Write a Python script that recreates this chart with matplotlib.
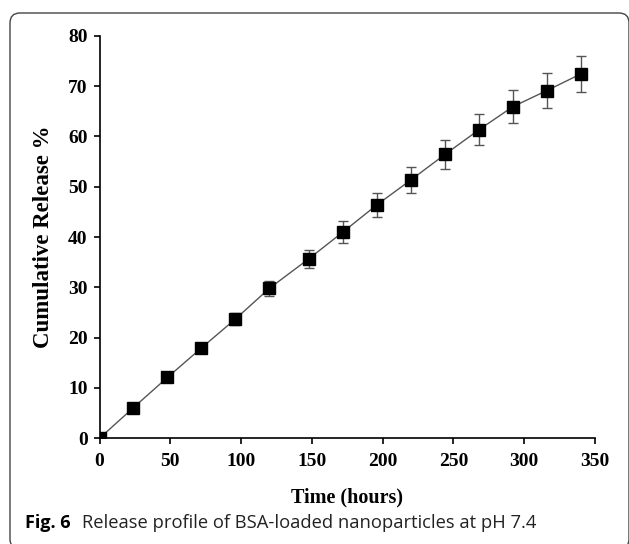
import matplotlib
matplotlib.use("Agg")
import matplotlib.pyplot as plt
from matplotlib.patches import FancyBboxPatch

# release data
hours = [0, 24, 48, 72, 96, 120, 148, 172, 196, 220, 244, 268, 292, 316, 340]
release = [0, 6.1, 12.1, 17.95, 23.7, 29.8, 35.7, 41.0, 46.4, 51.35, 56.4, 61.3, 65.9, 69.1, 72.4]
err = [0, 0.3, 0.5, 0.8, 1.2, 1.5, 1.8, 2.1, 2.4, 2.65, 2.85, 3.05, 3.3, 3.5, 3.6]

x_ticks = [0, 50, 100, 150, 200, 250, 300, 350]
y_ticks = [0, 10, 20, 30, 40, 50, 60, 70, 80]

W, H = 629, 544
fig = plt.figure(figsize=(W / 100, H / 100), dpi=100)

# rounded frame around the figure panel
frame = FancyBboxPatch((0.10, -0.05), 6.19, 5.36,
                       boxstyle="round,pad=0,rounding_size=0.1",
                       transform=fig.dpi_scale_trans, fill=False,
                       edgecolor="#444444", linewidth=1.0)
fig.patches.append(frame)

ax = fig.add_axes([99.5 / W, (H - 438.3) / H, (595 - 99.5) / W, (438.3 - 35.7) / H])

ax.errorbar(hours, release, yerr=err, color="#555555", linewidth=1.0,
            marker="s", markersize=8.5, markerfacecolor="black",
            markeredgecolor="black", ecolor="#555555", elinewidth=1.0,
            capsize=3.5, capthick=1.0)

ax.set_xlim(0, 350)
ax.set_ylim(0, 80)
ax.set_xticks(x_ticks)
ax.set_yticks(y_ticks)

serif = "Liberation Serif"
ax.set_xticklabels([str(t) for t in x_ticks], fontfamily=serif, fontweight="bold", fontsize=14)
ax.set_yticklabels([str(t) for t in y_ticks], fontfamily=serif, fontweight="bold", fontsize=14)
ax.tick_params(direction="out", length=4.5, width=1.2, pad=4)
ax.tick_params(axis="x", pad=6)

for side in ["top", "right"]:
    ax.spines[side].set_visible(False)
for side in ["left", "bottom"]:
    ax.spines[side].set_linewidth(1.2)

ax.set_xlabel("Time (hours)", fontfamily=serif, fontweight="bold", fontsize=14.5, labelpad=13)
ax.set_ylabel("Cumulative Release %", fontfamily=serif, fontweight="bold", fontsize=16.5, labelpad=10)

# caption
cap1 = fig.text(25 / W, 1 - 523 / H, "Fig. 6", fontfamily="Open Sans", fontweight="bold",
                fontsize=13, va="center", ha="left")
ax.annotate("Release profile of BSA-loaded nanoparticles at pH 7.4",
            xy=(1, 0.5), xycoords=cap1, xytext=(8, 0), textcoords="offset points",
            fontfamily="Open Sans", fontsize=13.2, va="center", ha="left",
            color="#222222", annotation_clip=False)

fig.savefig("out.png", dpi=100)
